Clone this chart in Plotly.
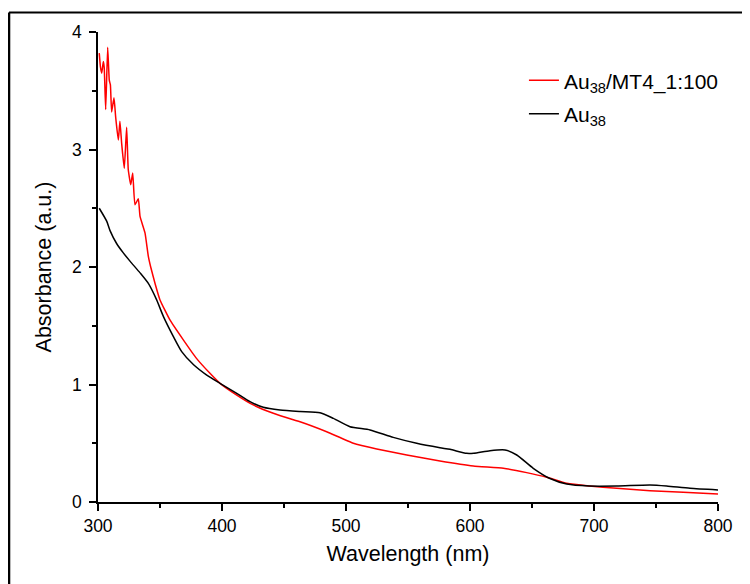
import plotly.graph_objects as go

# Au38/MT4_1:100 spectrum (red)
red_wl = [301, 302, 303, 304.3, 305, 306.2, 307.8, 309.1, 310, 311, 312.9, 314.3,
          316.4, 317.7, 319.1, 321.2, 323.1, 324.4, 326.4, 328, 329.8, 332.5, 333.9,
          337.9, 340.6, 342.5, 346, 350, 358, 368.8, 379.6, 390.3, 398.4, 411.9,
          425.2, 441.4, 457.5, 462.9, 484.4, 505.9, 524.8, 549, 575.8, 602.7, 626.9,
          645.7, 661.9, 678, 696.1, 718.3, 745.2, 772, 800]
red_abs = [3.82, 3.70, 3.65, 3.75, 3.70, 3.34, 3.87, 3.59, 3.55, 3.32, 3.44, 3.27,
           3.08, 3.24, 3.05, 2.84, 3.19, 2.83, 2.70, 2.80, 2.53, 2.58, 2.43,
           2.29, 2.09, 2.00, 1.86, 1.72, 1.55, 1.38, 1.22, 1.095, 1.01, 0.91,
           0.826, 0.755, 0.70, 0.683, 0.598, 0.50, 0.451, 0.40, 0.349, 0.306, 0.287,
           0.25, 0.21, 0.159, 0.136, 0.116, 0.096, 0.082, 0.068]

# Au38 spectrum (black)
blk_wl = [301, 307, 309.7, 315, 320.4, 325.8, 333.9, 340.6, 347.3, 352.7, 360.7,
          367.5, 376.9, 387.7, 398.4, 411.9, 422.6, 433.3, 446.8, 462.9, 479,
          489.8, 503.2, 519.4, 538.1, 557, 575.8, 583.9, 597.3, 603, 616.1, 628.2,
          637.7, 651, 664.5, 678, 696.1, 718.3, 745.2, 758.6, 777.4, 800]
blk_abs = [2.50, 2.39, 2.31, 2.20, 2.12, 2.05, 1.95, 1.86, 1.72, 1.58, 1.41,
           1.28, 1.17, 1.08, 1.01, 0.925, 0.854, 0.806, 0.783, 0.77, 0.76,
           0.712, 0.641, 0.613, 0.55, 0.50, 0.462, 0.448, 0.414, 0.415, 0.437, 0.443,
           0.40, 0.287, 0.20, 0.153, 0.136, 0.136, 0.145, 0.136, 0.116, 0.102]

FONT = "Liberation Sans, Arial, sans-serif"

fig = go.Figure()
fig.add_trace(go.Scatter(x=red_wl, y=red_abs, mode="lines", name="Au<sub>38</sub>/MT4_1:100",
                         legendgroup="a",
                         line=dict(color="#ff0000", width=1.5, shape="spline", smoothing=0.4)))
fig.add_trace(go.Scatter(x=blk_wl, y=blk_abs, mode="lines", name="Au<sub>38</sub>",
                         legendgroup="b",
                         line=dict(color="#000000", width=1.5, shape="spline", smoothing=0.6)))

axis_common = dict(
    showline=True, linecolor="#000000", linewidth=1.5, mirror=False,
    ticks="outside", ticklen=7, tickwidth=1.5, tickcolor="#000000",
    showgrid=False, zeroline=False,
    tickfont=dict(family=FONT, size=17.5, color="#000000"),
)

fig.update_xaxes(range=[300, 800], dtick=100, tick0=300,
                 minor=dict(ticks="outside", ticklen=4, tickwidth=1.5, tickcolor="#000000", dtick=50),
                 title=dict(text="Wavelength (nm)", standoff=11,
                            font=dict(family=FONT, size=21.5, color="#000000")),
                 **axis_common)
fig.update_yaxes(range=[0, 4], dtick=1, tick0=0, ticklabelstandoff=4,
                 minor=dict(ticks="outside", ticklen=4, tickwidth=1.5, tickcolor="#000000", dtick=0.5),
                 title=dict(text="Absorbance (a.u.)", standoff=14,
                            font=dict(family=FONT, size=21.5, color="#000000")),
                 **axis_common)

# frame around the figure (top and left edges visible in the original crop)
fig.add_shape(type="line", xref="paper", yref="paper", x0=-0.1435, x1=1.07, y0=1.0415, y1=1.0415,
              line=dict(color="#000000", width=2))
fig.add_shape(type="line", xref="paper", yref="paper", x0=-0.1435, x1=-0.1435, y0=1.0415, y1=-0.2,
              line=dict(color="#000000", width=2.5))

# the page body adds an 8px offset, so the figure is sized to the remaining window
fig.update_layout(
    width=742, height=576,
    margin=dict(l=90, r=32, t=24, b=82),
    paper_bgcolor="#ffffff", plot_bgcolor="#ffffff",
    font=dict(family=FONT, color="#000000"),
    showlegend=True,
    legend=dict(x=0.687, y=0.94, xanchor="left", yanchor="top",
                tracegroupgap=3,
                bgcolor="rgba(0,0,0,0)", borderwidth=0,
                font=dict(family=FONT, size=21, color="#000000")),
)

fig.write_html("out.html")
